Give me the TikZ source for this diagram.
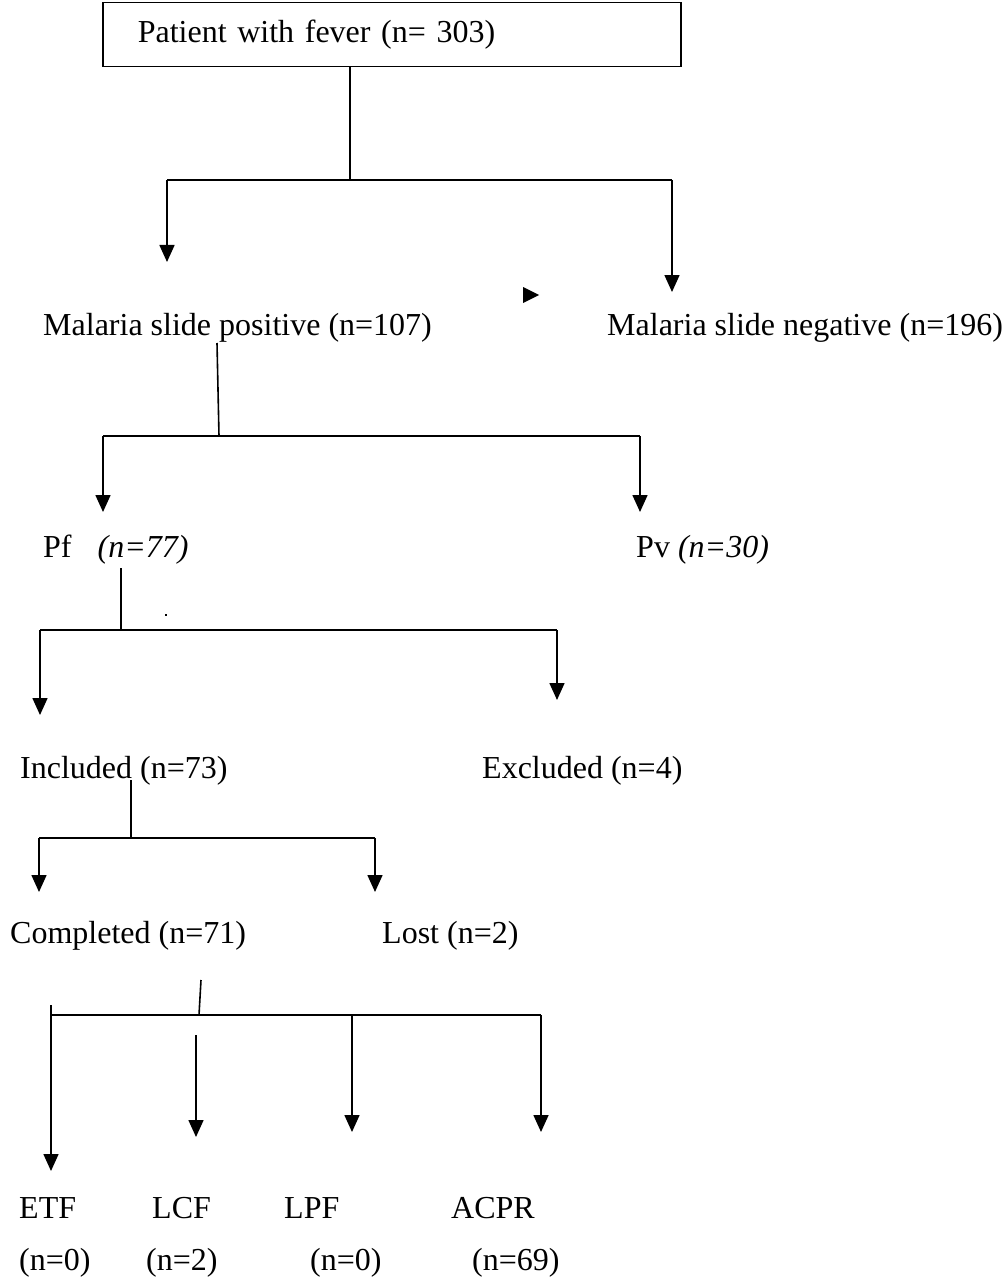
\documentclass[tikz,border=0pt]{standalone}
\usepackage{fontspec}
\setmainfont{Liberation Serif}
\usetikzlibrary{arrows.meta}
\begin{document}
\begin{tikzpicture}[x=1pt,y=-1pt,
  lbl/.style={anchor=base west,inner sep=0pt,font=\fontsize{32}{38}\selectfont},
  conn/.style={line width=1.6pt},
  arr/.style={line width=1.6pt,-{Triangle[width=15pt,length=17pt]}},
  topbox/.style={draw,line width=1.5pt,minimum height=64pt,text width=508pt,inner xsep=35pt,inner ysep=0pt,align=left,font=\fontsize{32}{38}\selectfont}]
\useasboundingbox (0,0) rectangle (1008,1281);
% top
\node[topbox,anchor=north west] (top) at (102,2) {Patient with fever (n= 303)};
\coordinate (j1) at (350,180);
\coordinate (j1l) at (167,180);
\coordinate (j1r) at (672,180);
\coordinate (t1l) at (167,262);
\coordinate (t1r) at (672,292);
\draw[conn] (top.south -| j1) -- (j1);
\draw[conn] (j1l) -- (j1r);
\draw[arr] (j1l) -- (t1l);
\draw[arr] (j1r) -- (t1r);
\fill (523,287) -- (539,295) -- (523,303) -- cycle;
% level 2
\node[lbl] (pos) at (43,335) {Malaria slide positive (n=107)};
\node[lbl] (neg) at (607,335) {Malaria slide negative (n=196)};
\coordinate (p1) at (217,343);
\coordinate (j2) at (219,436);
\coordinate (j2l) at (103,436);
\coordinate (j2r) at (640,436);
\coordinate (t2l) at (103,512);
\coordinate (t2r) at (640,512);
\draw[conn] (p1) -- (j2);
\draw[conn] (j2l) -- (j2r);
\draw[arr] (j2l) -- (t2l);
\draw[arr] (j2r) -- (t2r);
% level 3
\node[lbl] (pf) at (43,557) {Pf\hspace{26pt}\textit{(n=77)}};
\node[lbl] (pv) at (636,557) {Pv \textit{(n=30)}};
\coordinate (p3) at (121,568);
\coordinate (j3) at (121,630);
\coordinate (j3l) at (40,630);
\coordinate (j3r) at (557,630);
\coordinate (t3l) at (40,715);
\coordinate (t3r) at (557,700);
\draw[conn] (p3) -- (j3);
\draw[conn] (j3l) -- (j3r);
\draw[arr] (j3l) -- (t3l);
\draw[arr] (j3r) -- (t3r);
\fill (165,614) rectangle (167,616);
% level 4
\node[lbl] (inc) at (20,778) {Included (n=73)};
\node[lbl] (exc) at (482,778) {Excluded (n=4)};
\coordinate (p4) at (131,780);
\coordinate (j4) at (131,838);
\coordinate (j4l) at (39,838);
\coordinate (j4r) at (375,838);
\coordinate (t4l) at (39,892);
\coordinate (t4r) at (375,892);
\draw[conn] (p4) -- (j4);
\draw[conn] (j4l) -- (j4r);
\draw[arr] (j4l) -- (t4l);
\draw[arr] (j4r) -- (t4r);
% level 5
\node[lbl] (comp) at (10,943) {Completed (n=71)};
\node[lbl] (lost) at (382,943) {Lost (n=2)};
\coordinate (p5) at (201,980);
\coordinate (j5) at (199,1015);
\coordinate (j5a) at (51,1015);
\coordinate (j5c) at (352,1015);
\coordinate (j5d) at (541,1015);
\coordinate (s5a) at (51,1005);
\coordinate (s5b) at (196,1035);
\coordinate (t5a) at (51,1171);
\coordinate (t5b) at (196,1137);
\coordinate (t5c) at (352,1132);
\coordinate (t5d) at (541,1132);
\draw[conn] (p5) -- (j5);
\draw[conn] (j5a) -- (j5d);
\draw[arr] (s5a) -- (t5a);
\draw[arr] (s5b) -- (t5b);
\draw[arr] (j5c) -- (t5c);
\draw[arr] (j5d) -- (t5d);
% bottom
\node[lbl] (etf) at (19,1218) {ETF};
\node[lbl] (lcf) at (152,1218) {LCF};
\node[lbl] (lpf) at (284,1218) {LPF};
\node[lbl] (acpr) at (451,1218) {ACPR};
\node[lbl] (netf) at (19,1270) {(n=0)};
\node[lbl] (nlcf) at (146,1270) {(n=2)};
\node[lbl] (nlpf) at (310,1270) {(n=0)};
\node[lbl] (nacpr) at (472,1270) {(n=69)};
\end{tikzpicture}
\end{document}
